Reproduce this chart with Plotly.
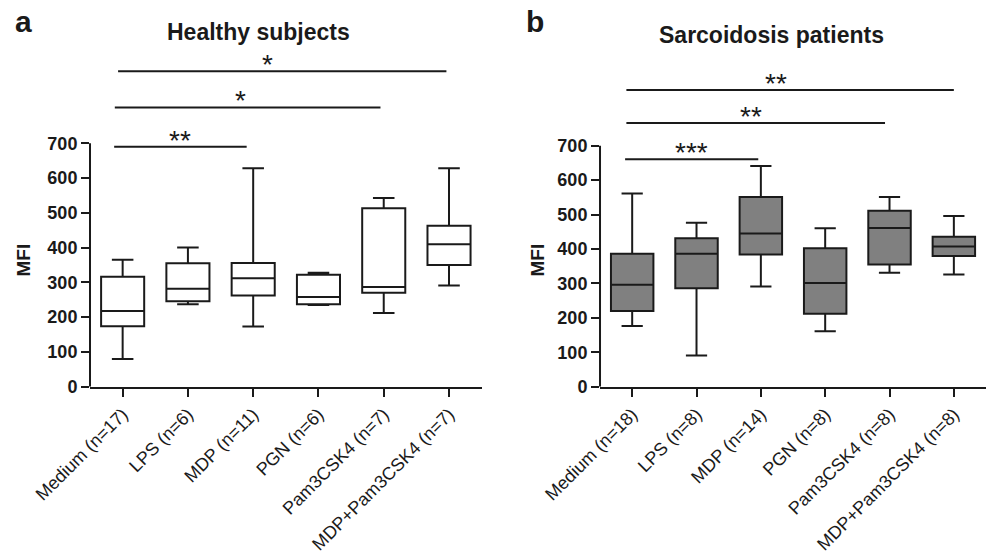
import plotly.graph_objects as go

# ---------------- data ----------------
cats_a = ["Medium (n=17)", "LPS (n=6)", "MDP (n=11)", "PGN (n=6)", "Pam3CSK4 (n=7)", "MDP+Pam3CSK4 (n=7)"]
min_a = [80, 237, 173, 235, 212, 291]
q1_a = [174, 246, 262, 237, 270, 350]
med_a = [218, 282, 312, 258, 287, 410]
q3_a = [316, 355, 356, 322, 513, 463]
max_a = [365, 400, 628, 328, 543, 628]

cats_b = ["Medium (n=18)", "LPS (n=8)", "MDP (n=14)", "PGN (n=8)", "Pam3CSK4 (n=8)", "MDP+Pam3CSK4 (n=8)"]
min_b = [176, 91, 291, 161, 331, 326]
q1_b = [220, 286, 384, 212, 355, 380]
med_b = [296, 386, 445, 301, 461, 407]
q3_b = [386, 431, 551, 402, 511, 436]
max_b = [561, 476, 641, 460, 551, 496]

# significance brackets: (start idx, end idx, y level, label, label x)
sig_a = [(-0.13, 1.9, 690, "**", 0.88), (-0.12, 3.95, 803, "*", 1.8), (-0.07, 4.96, 907, "*", 2.22)]
sig_b = [(-0.11, 1.96, 661, "***", 0.92), (-0.09, 3.93, 766, "**", 1.85), (-0.09, 5.0, 862, "**", 2.24)]

FONT = "Liberation Sans, Arial, sans-serif"
INK = "#1a1a1a"

fig = go.Figure()

fig.add_trace(go.Box(
    x=cats_a, q1=q1_a, median=med_a, q3=q3_a, lowerfence=min_a, upperfence=max_a,
    fillcolor="white", line=dict(color=INK, width=2), width=0.66, whiskerwidth=0.5,
    boxpoints=False, xaxis="x", yaxis="y", showlegend=False))

fig.add_trace(go.Box(
    x=cats_b, q1=q1_b, median=med_b, q3=q3_b, lowerfence=min_b, upperfence=max_b,
    fillcolor="#808080", line=dict(color=INK, width=2), width=0.66, whiskerwidth=0.5,
    boxpoints=False, xaxis="x2", yaxis="y2", showlegend=False))

yticks = [0, 100, 200, 300, 400, 500, 600, 700]

xax = dict(type="category", range=[-0.5, 5.5], showline=True, linewidth=2, linecolor=INK,
           ticks="outside", ticklen=8, tickwidth=2, tickcolor=INK, tickangle=-45, automargin=False,
           tickfont=dict(family=FONT, size=18, color=INK), showgrid=False, zeroline=False)
yax = dict(range=[0, 950], tickvals=yticks, showline=False, ticks="outside", ticklen=8, automargin=False,
           tickwidth=2, tickcolor=INK, tickfont=dict(family=FONT, size=18, color=INK, weight="bold"),
           showgrid=False, zeroline=False)

fig.update_layout(
    width=988, height=558, margin=dict(l=0, r=0, t=0, b=0, autoexpand=False),
    paper_bgcolor="white", plot_bgcolor="white",
    xaxis=dict(xax, domain=[0.0911, 0.4875], anchor="y"),
    yaxis=dict(yax, domain=[0.307, 0.899], anchor="x"),
    xaxis2=dict(xax, domain=[0.6073, 0.998], anchor="y2"),
    yaxis2=dict(yax, domain=[0.307, 0.893], anchor="x2"),
)

shapes = []
annots = []
for xr, yr, sig in (("x", "y", sig_a), ("x2", "y2", sig_b)):
    # y axis line from 0 to 700
    shapes.append(dict(type="line", xref=xr + " domain", x0=0, x1=0, yref=yr, y0=0, y1=700,
                       line=dict(color=INK, width=2)))
    for s, e, lvl, lab, lx in sig:
        shapes.append(dict(type="line", xref=xr, yref=yr, x0=s, x1=e, y0=lvl, y1=lvl,
                           line=dict(color=INK, width=2)))
        annots.append(dict(xref=xr, yref=yr, x=lx, y=lvl, text=lab, showarrow=False,
                           xanchor="center", yanchor="bottom", yshift=-11,
                           font=dict(family=FONT, size=28, color=INK)))

annots += [
    dict(xref="paper", yref="paper", x=0.262, y=0.943, text="<b>Healthy subjects</b>", showarrow=False,
         xanchor="center", yanchor="middle", font=dict(family=FONT, size=23, color=INK)),
    dict(xref="paper", yref="paper", x=0.781, y=0.937, text="<b>Sarcoidosis patients</b>", showarrow=False,
         xanchor="center", yanchor="middle", font=dict(family=FONT, size=23, color=INK)),
    dict(xref="paper", yref="paper", x=0.0233, y=0.962, text="<b>a</b>", showarrow=False,
         xanchor="center", yanchor="middle", font=dict(family=FONT, size=30, color=INK)),
    dict(xref="paper", yref="paper", x=0.541, y=0.962, text="<b>b</b>", showarrow=False,
         xanchor="center", yanchor="middle", font=dict(family=FONT, size=30, color=INK)),
    dict(xref="paper", yref="paper", x=0.0238, y=0.534, text="<b>MFI</b>", textangle=-90, showarrow=False,
         xanchor="center", yanchor="middle", font=dict(family=FONT, size=19, color=INK)),
    dict(xref="paper", yref="paper", x=0.544, y=0.534, text="<b>MFI</b>", textangle=-90, showarrow=False,
         xanchor="center", yanchor="middle", font=dict(family=FONT, size=19, color=INK)),
]

fig.update_layout(shapes=shapes, annotations=annots)
fig.write_html("out.html", config={"displayModeBar": False},
               post_script="document.body.style.margin='0px';document.body.style.overflow='hidden';")
